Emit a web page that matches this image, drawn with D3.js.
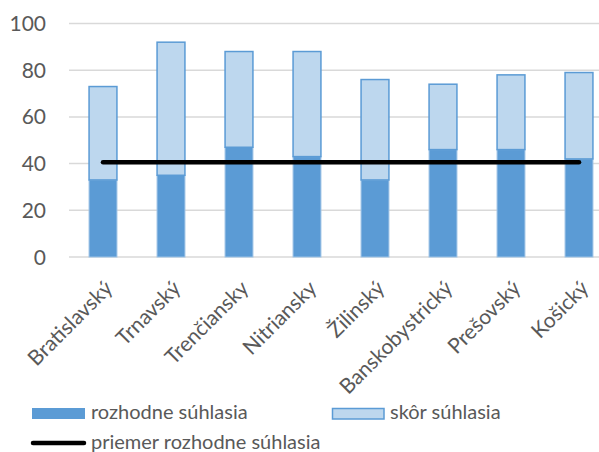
<!DOCTYPE html>
<html>
<head>
<meta charset="utf-8">
<script src="https://cdn.jsdelivr.net/npm/d3@7"></script>
<style>
  body { margin: 0; background: #fff; }
  text { font-family: Lato, "Open Sans", sans-serif; fill: #595959; }
</style>
</head>
<body>
<div id="chart"></div>
<script>
// data
var regions = ["Bratislavský", "Trnavský", "Trenčiansky", "Nitriansky", "Žilinský", "Banskobystrický", "Prešovský", "Košický"];
var rozhodne = [33, 35, 47, 43, 33, 46, 46, 42];
var skor = [40, 57, 41, 45, 43, 28, 32, 37];
var priemer = 40.6;
var yTicks = [0, 20, 40, 60, 80, 100];

var width = 599, height = 452;

var svg = d3.select("#chart")
  .append("svg")
  .attr("width", width)
  .attr("height", height);

var x = d3.scaleBand()
  .domain(regions)
  .range([69, 613])
  .paddingInner(0.59)
  .paddingOuter(0.295);

var y = d3.scaleLinear()
  .domain([0, 100])
  .range([257, 23.5]);

// gridlines
svg.append("g")
  .selectAll("line")
  .data(yTicks)
  .enter()
  .append("line")
  .attr("x1", 69)
  .attr("x2", width)
  .attr("y1", d => y(d))
  .attr("y2", d => y(d))
  .attr("stroke", "#d9d9d9")
  .attr("stroke-width", 1.5);

// y labels
svg.append("g")
  .selectAll("text")
  .data(yTicks)
  .enter()
  .append("text")
  .attr("x", 46)
  .attr("y", d => y(d))
  .attr("dy", "0.36em")
  .attr("text-anchor", "end")
  .style("font-size", "21px")
  .text(d => d);

// stacked bars
var bars = svg.append("g")
  .selectAll("g")
  .data(regions)
  .enter()
  .append("g");

bars.append("rect")
  .attr("x", d => x(d))
  .attr("width", x.bandwidth())
  .attr("y", (d, i) => y(rozhodne[i]))
  .attr("height", (d, i) => y(0) - y(rozhodne[i]))
  .attr("fill", "#5b9bd5")
  .attr("stroke", "#9dc3e6")
  .attr("stroke-width", 1);

bars.append("rect")
  .attr("x", d => x(d))
  .attr("width", x.bandwidth())
  .attr("y", (d, i) => y(rozhodne[i] + skor[i]))
  .attr("height", (d, i) => y(rozhodne[i]) - y(rozhodne[i] + skor[i]))
  .attr("fill", "#bdd7ee")
  .attr("stroke", "#5b9bd5")
  .attr("stroke-width", 1.5);

// average line
svg.append("line")
  .attr("x1", x(regions[0]) + x.bandwidth() / 2)
  .attr("x2", x(regions[regions.length - 1]) + x.bandwidth() / 2)
  .attr("y1", y(priemer))
  .attr("y2", y(priemer))
  .attr("stroke", "#000")
  .attr("stroke-width", 4.5)
  .attr("stroke-linecap", "round");

// x labels, rotated
svg.append("g")
  .selectAll("text")
  .data(regions)
  .enter()
  .append("text")
  .attr("transform", d => "translate(" + (x(d) + x.bandwidth() / 2 + 11) + ",289.5) rotate(-45)")
  .attr("text-anchor", "end")
  .style("font-size", "21px")
  .text(d => d);

// legend
var legend = svg.append("g");

legend.append("rect")
  .attr("x", 32).attr("y", 408)
  .attr("width", 53).attr("height", 11)
  .attr("fill", "#5b9bd5");

legend.append("text")
  .attr("x", 91).attr("y", 419)
  .style("font-size", "20px")
  .text("rozhodne súhlasia");

legend.append("rect")
  .attr("x", 332.5).attr("y", 408.5)
  .attr("width", 51.5).attr("height", 10.5)
  .attr("fill", "#bdd7ee")
  .attr("stroke", "#5b9bd5")
  .attr("stroke-width", 1.5);

legend.append("text")
  .attr("x", 390).attr("y", 419)
  .style("font-size", "20px")
  .text("skôr súhlasia");

legend.append("line")
  .attr("x1", 33).attr("x2", 84)
  .attr("y1", 443).attr("y2", 443)
  .attr("stroke", "#000")
  .attr("stroke-width", 4.5)
  .attr("stroke-linecap", "round");

legend.append("text")
  .attr("x", 91).attr("y", 449)
  .style("font-size", "20px")
  .text("priemer rozhodne súhlasia");
</script>
</body>
</html>
